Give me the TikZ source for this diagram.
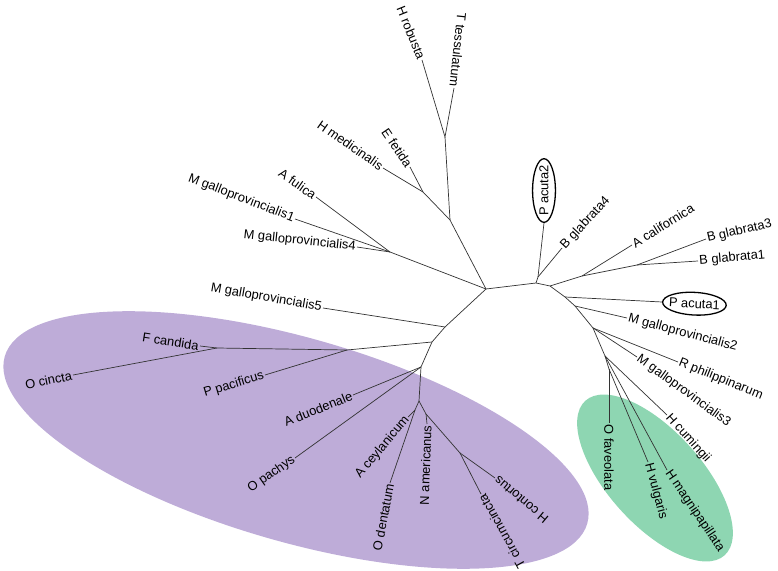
\documentclass[tikz,border=0pt]{standalone}
\usepackage{fontspec}
\setmainfont{Liberation Sans}
\usetikzlibrary{shapes.geometric}
\definecolor{cladeviolet}{RGB}{190,172,216}
\definecolor{cladegreen}{RGB}{142,214,178}
\tikzset{
  branch/.style={line width=0.6pt, black!80},
  taxon/.style={inner sep=1pt, font=\fontsize{11}{13}\selectfont},
  acuta/.style={taxon, draw, ellipse, line width=1.1pt, inner xsep=-2.5pt, inner ysep=3pt},
}
\begin{document}
\begin{tikzpicture}[x=0.03cm, y=-0.03cm]
    \useasboundingbox (0,0) rectangle (778,571);
    % clades
    \fill[cladeviolet, rotate around={-16:(296,440)}] (296,440) ellipse [x radius=303, y radius=102];
    \fill[cladegreen, rotate around={-48:(655,478)}] (655,478) ellipse [x radius=104, y radius=47];

    % inner nodes
    \coordinate (n1) at (486,289);
    \coordinate (hr) at (450,220);
    \coordinate (ht) at (445,137);
    \coordinate (he) at (423,192);
    \coordinate (af) at (390,252);
    \coordinate (r2) at (445,327);
    \coordinate (r3) at (432,342);
    \coordinate (r4) at (421,367);
    \coordinate (c1) at (419,401);
    \coordinate (c2) at (415,410);
    \coordinate (c3) at (426,414);
    \coordinate (c4) at (460,453);
    \coordinate (fc) at (347,350);
    \coordinate (fo) at (217,348);
    \coordinate (r6) at (536,283);
    \coordinate (p2) at (538,277);
    \coordinate (r7) at (550,286);
    \coordinate (sa) at (582,276);
    \coordinate (sb) at (637,265);
    \coordinate (r8) at (565,297);
    \coordinate (r9) at (575,306);
    \coordinate (r10) at (593,328);
    \coordinate (q1) at (605,356);
    \coordinate (q2) at (609,369);

    % taxa, left half
    \node[taxon, rotate=-68, anchor=east] (hrob) at (422,60) {H robusta};
    \node[taxon, rotate=-96, anchor=east] (ttes) at (454,88) {T tessulatum};
    \node[taxon, rotate=-56, anchor=east] (efet) at (410,167) {E fetida};
    \node[taxon, rotate=-35, anchor=east] (hmed) at (383,168) {H medicinalis};
    \node[taxon, rotate=-35, anchor=east] (aful) at (316,197) {A fulica};
    \node[taxon, rotate=-21, anchor=east] (mg1) at (295,219) {M galloprovincialis1};
    \node[taxon, rotate=-6, anchor=east] (mg4) at (357,247) {M galloprovincialis4};
    \node[taxon, rotate=-10, anchor=east] (mg5) at (323,308) {M galloprovincialis5};
    \node[taxon, rotate=-9, anchor=east] (fcan) at (200,346) {F candida};
    \node[taxon, rotate=12, anchor=east] (ocin) at (73,375) {O cincta};
    \node[taxon, rotate=17, anchor=east] (ppac) at (265,375) {P pacificus};
    \node[taxon, rotate=22, anchor=east] (aduo) at (353,395) {A duodenale};
    \node[taxon, rotate=35, anchor=east] (opac) at (295,458) {O pachys};
    \node[taxon, rotate=50, anchor=east] (acey) at (408,417) {A ceylanicum};
    \node[taxon, rotate=79, anchor=east] (oden) at (390,483) {O dentatum};
    \node[taxon, rotate=88, anchor=east] (name) at (427,424) {N americanus};
    \node[taxon, rotate=119, anchor=east] (tcir) at (481,494) {T circumcincta};
    \node[taxon, rotate=140, anchor=east] (hcon) at (495,478) {H contortus};

    % taxa, right half
    \node[acuta, rotate=90, anchor=west] (pac2) at (544,223) {P acuta2};
    \node[taxon, rotate=47, anchor=west] (bg4) at (562,248) {B glabrata4};
    \node[taxon, rotate=32, anchor=west] (acal) at (632,245) {A californica};
    \node[taxon, rotate=13, anchor=west] (bg3) at (706,239) {B glabrata3};
    \node[taxon, rotate=5, anchor=west] (bg1) at (698,261) {B glabrata1};
    \node[acuta, rotate=-3, anchor=west] (pac1) at (662,302) {P acuta1};
    \node[taxon, rotate=-15, anchor=west] (mg2) at (627,318) {M galloprovincialis2};
    \node[taxon, rotate=-22, anchor=west] (rphi) at (678,362) {R philippinarum};
    \node[taxon, rotate=-36, anchor=west] (mg3) at (637,357) {M galloprovincialis3};
    \node[taxon, rotate=-48, anchor=west] (hcum) at (667,415) {H cumingii};
    \node[taxon, rotate=-90, anchor=west] (ofav) at (609,423) {O faveolata};
    \node[taxon, rotate=-75, anchor=west] (hvul) at (648,462) {H vulgaris};
    \node[taxon, rotate=-56, anchor=west] (hmag) at (667,470) {H magnipapillata};

    % branches
    \draw[branch] (hrob.east) -- (ht) -- (ttes.east);
    \draw[branch] (ht) -- (hr) -- (n1);
    \draw[branch] (hr) -- (he) -- (efet.east);
    \draw[branch] (he) -- (hmed.east);
    \draw[branch] (n1) -- (af) -- (aful.east);
    \draw[branch] (af) -- (mg1.east);
    \draw[branch] (af) -- (mg4.east);
    \draw[branch] (n1) -- (r2) -- (r3) -- (r4) -- (c1);
    \draw[branch] (r2) -- (mg5.east);
    \draw[branch] (r3) -- (fc) -- (fo) -- (fcan.east);
    \draw[branch] (fo) -- (ocin.east);
    \draw[branch] (fc) -- (ppac.east);
    \draw[branch] (r4) -- (aduo.east);
    \draw[branch] (r4) -- (opac.east);
    \draw[branch] (c1) -- (c2) -- (oden.east);
    \draw[branch] (c2) -- (acey.east);
    \draw[branch] (c1) -- (c3) -- (name.east);
    \draw[branch] (c3) -- (c4) -- (tcir.east);
    \draw[branch] (c4) -- (hcon.east);
    \draw[branch] (n1) -- (r6) -- (r7) -- (r8) -- (r9) -- (r10) -- (q1) -- (q2);
    \draw[branch] (r6) -- (p2) -- (pac2.west);
    \draw[branch] (p2) -- (bg4.west);
    \draw[branch] (r7) -- (sa) -- (acal.west);
    \draw[branch] (sa) -- (sb) -- (bg3.west);
    \draw[branch] (sb) -- (bg1.west);
    \draw[branch] (r8) -- (pac1.west);
    \draw[branch] (r9) -- (mg2.west);
    \draw[branch] (r10) -- (rphi.west);
    \draw[branch] (r10) -- (mg3.west);
    \draw[branch] (q1) -- (hcum.west);
    \draw[branch] (q1) -- (hmag.west);
    \draw[branch] (q2) -- (ofav.west);
    \draw[branch] (q2) -- (hvul.west);
\end{tikzpicture}
\end{document}
